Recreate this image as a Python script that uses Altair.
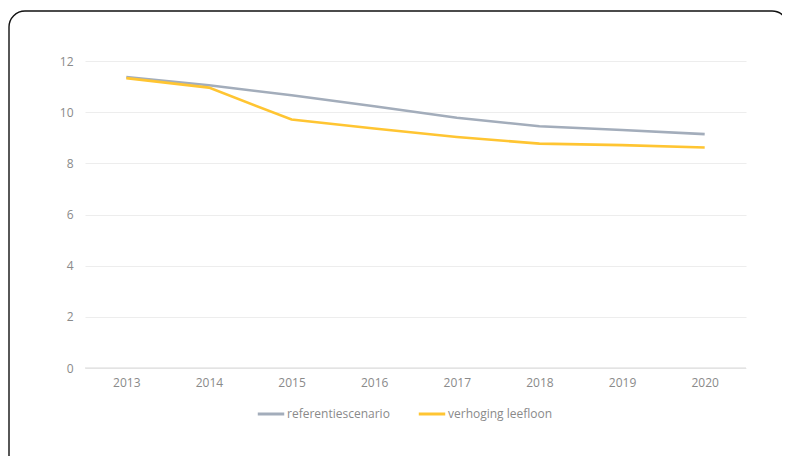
import altair as alt
import pandas as pd

years = ["2013", "2014", "2015", "2016", "2017", "2018", "2019", "2020"]
referentiescenario = [11.37, 11.05, 10.66, 10.23, 9.78, 9.45, 9.30, 9.14]
verhoging_leefloon = [11.33, 10.96, 9.71, 9.36, 9.03, 8.77, 8.71, 8.62]
series_names = ["referentiescenario", "verhoging leefloon"]
series_colors = ["#A3ADBB", "#FFC532"]
y_ticks = [0, 2, 4, 6, 8, 10, 12]

rows = []
for name, vals in zip(series_names, [referentiescenario, verhoging_leefloon]):
    for y, v in zip(years, vals):
        rows.append({"jaar": y, "waarde": v, "reeks": name})
df = pd.DataFrame(rows)

FONT = "Open Sans"
W, H = 661, 307

lines = alt.Chart(df).mark_line(strokeWidth=2.6, interpolate="linear").encode(
    x=alt.X("jaar:N", sort=years, title=None,
            scale=alt.Scale(type="point", padding=0.5),
            axis=alt.Axis(labelAngle=0, ticks=False, domain=False, grid=False,
                          labelPadding=9, labelColor="#8A8A8A", labelFontSize=12,
                          labelFont=FONT)),
    y=alt.Y("waarde:Q", title=None,
            scale=alt.Scale(domain=[0, 12], nice=False),
            axis=alt.Axis(values=y_ticks, ticks=False, domain=False,
                          gridColor="#EDEDED", gridWidth=1,
                          labelPadding=12, labelColor="#8A8A8A", labelFontSize=12,
                          labelFont=FONT)),
    color=alt.Color("reeks:N", sort=series_names, title=None,
                    scale=alt.Scale(domain=series_names, range=series_colors),
                    legend=alt.Legend(orient="none", direction="horizontal",
                                      legendX=171, legendY=338,
                                      symbolType="stroke", symbolSize=700,
                                      symbolStrokeWidth=3, labelOffset=1,
                                      columnPadding=22, labelFontSize=12,
                                      labelColor="#8A8A8A", labelFont=FONT)),
)

baseline = alt.Chart(pd.DataFrame({"y": [0]})).mark_rule(color="#D9D9D9", strokeWidth=1).encode(
    y=alt.Y("y:Q", scale=alt.Scale(domain=[0, 12], nice=False))
)

frame = alt.Chart(pd.DataFrame({"a": [1]})).mark_rect(
    fill="transparent", stroke="#111111", strokeWidth=1.4, cornerRadius=16
).encode(
    x=alt.value(-76), x2=alt.value(703), y=alt.value(-50), y2=alt.value(410)
)

chart = alt.layer(baseline, lines, frame).properties(
    width=W, height=H,
    autosize=alt.AutoSizeParams(type="none"),
    padding={"left": 77, "top": 53, "right": 36, "bottom": 88},
).configure(background="white").configure_view(stroke=None)

chart.save("out.html", embed_options={"renderer": "svg", "actions": False})
